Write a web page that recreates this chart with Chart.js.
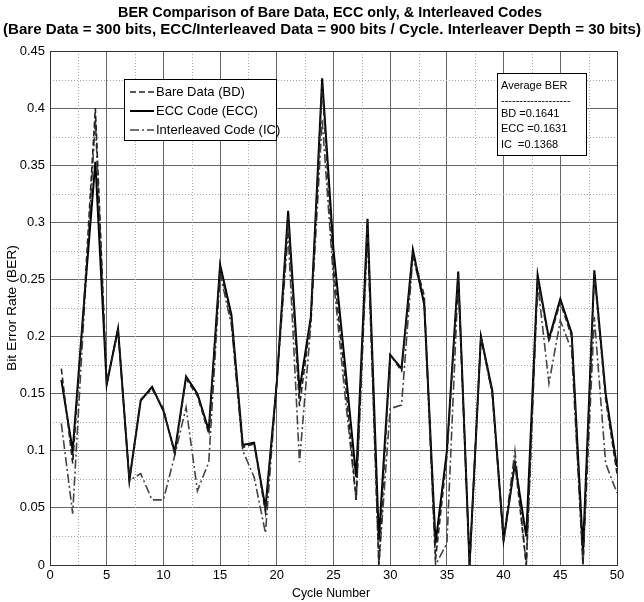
<!DOCTYPE html>
<html>
<head>
<meta charset="utf-8">
<title>BER Comparison</title>
<script src="https://cdn.jsdelivr.net/npm/chart.js@4.4.1/dist/chart.umd.min.js"></script>
<style>
    html, body { margin: 0; padding: 0; background: #fff; }
    #wrap { width: 644px; height: 602px; }
</style>
</head>
<body>
<div id="wrap"><canvas id="berChart" width="644" height="602"></canvas></div>
<script>
// --- Data ---
const cycles = [1, 2, 3, 4, 5, 6, 7, 8, 9, 10, 11, 12, 13, 14, 15, 16, 17, 18, 19, 20,
    21, 22, 23, 24, 25, 26, 27, 28, 29, 30, 31, 32, 33, 34, 35, 36, 37, 38, 39, 40,
    41, 42, 43, 44, 45, 46, 47, 48, 49, 50];

// Bare Data (BD)
const berBare = [0.172, 0.089, 0.23, 0.40, 0.16, 0.205, 0.074, 0.145, 0.154, 0.137,
    0.097, 0.163, 0.148, 0.115, 0.26, 0.215, 0.103, 0.106, 0.046, 0.16,
    0.305, 0.139, 0.215, 0.42, 0.26, 0.165, 0.057, 0.30, 0.0, 0.184,
    0.17, 0.272, 0.236, 0.005, 0.095, 0.255, 0.0, 0.20, 0.15, 0.02,
    0.09, 0.0, 0.25, 0.196, 0.23, 0.20, 0.0, 0.255, 0.145, 0.08];

// ECC Code (ECC)
const berEcc = [0.162, 0.10, 0.23, 0.353, 0.158, 0.207, 0.074, 0.144, 0.156, 0.135,
    0.099, 0.165, 0.15, 0.118, 0.263, 0.219, 0.105, 0.107, 0.05, 0.16,
    0.31, 0.153, 0.217, 0.426, 0.276, 0.177, 0.077, 0.303, 0.022, 0.184,
    0.172, 0.276, 0.228, 0.019, 0.10, 0.257, 0.0, 0.20, 0.153, 0.022,
    0.089, 0.025, 0.254, 0.198, 0.233, 0.203, 0.013, 0.258, 0.15, 0.086];

// Interleaved Code (IC)
const berInterleaved = [0.124, 0.045, 0.22, 0.39, 0.158, 0.207, 0.074, 0.08, 0.057, 0.057,
    0.096, 0.138, 0.065, 0.09, 0.255, 0.21, 0.10, 0.077, 0.028, 0.16,
    0.29, 0.09, 0.21, 0.39, 0.25, 0.15, 0.057, 0.29, 0.0, 0.137,
    0.14, 0.27, 0.23, 0.0, 0.019, 0.25, 0.0, 0.20, 0.15, 0.022,
    0.10, 0.0, 0.247, 0.159, 0.214, 0.188, 0.0, 0.217, 0.089, 0.063];

const xTicks = [0, 5, 10, 15, 20, 25, 30, 35, 40, 45, 50];
const yTicks = [0, 0.05, 0.1, 0.15, 0.2, 0.25, 0.3, 0.35, 0.4, 0.45];

const titleLines = [
    'BER Comparison of Bare Data, ECC only, & Interleaved Codes',
    '(Bare Data = 300 bits, ECC/Interleaved Data = 900 bits / Cycle. Interleaver Depth = 30 bits)'
];
const averageLines = ['Average BER', '-------------------', 'BD =0.1641', 'ECC =0.1631', 'IC  =0.1368'];

// --- Styles ---
const FONT = "'Liberation Sans Narrow', 'Arial Narrow', 'Liberation Sans', Arial, sans-serif";
const seriesStyles = [
    { label: 'Bare Data (BD)', color: '#222', width: 1.6, dash: [6, 3] },
    { label: 'ECC Code (ECC)', color: '#000', width: 2, dash: [] },
    { label: 'Interleaved Code (IC)', color: '#444', width: 1.6, dash: [9, 3, 2, 3] }
];

const toPoints = (values) => cycles.map((c, i) => ({ x: c, y: values[i] }));

// Text squeezed/stretched to a given width (the figure uses a narrow face)
function fillFitted(ctx, text, cx, y, width) {
    const w = ctx.measureText(text).width;
    ctx.save();
    ctx.translate(cx, y);
    ctx.scale(width / w, 1);
    ctx.fillText(text, 0, 0);
    ctx.restore();
}

// --- Plugins ---
const minorGrid = {
    id: 'minorGrid',
    beforeDatasetsDraw(chart) {
        const { ctx, chartArea: a, scales: { x, y } } = chart;
        ctx.save();
        ctx.strokeStyle = '#aaa';
        ctx.lineWidth = 1;
        ctx.setLineDash([1, 2]);
        for (let i = 0; i < xTicks.length - 1; i++) {
            const px = Math.round(x.getPixelForValue((xTicks[i] + xTicks[i + 1]) / 2)) + 0.5;
            ctx.beginPath(); ctx.moveTo(px, a.top); ctx.lineTo(px, a.bottom); ctx.stroke();
        }
        for (let i = 0; i < yTicks.length - 1; i++) {
            const py = Math.round(y.getPixelForValue((yTicks[i] + yTicks[i + 1]) / 2)) + 0.5;
            ctx.beginPath(); ctx.moveTo(a.left, py); ctx.lineTo(a.right, py); ctx.stroke();
        }
        ctx.restore();
    }
};

const annotations = {
    id: 'annotations',
    afterDraw(chart) {
        const { ctx, chartArea: a } = chart;
        ctx.save();

        // frame
        ctx.strokeStyle = '#333';
        ctx.lineWidth = 1;
        ctx.strokeRect(a.left + 0.5, a.top + 0.5, a.right - a.left, a.bottom - a.top);

        // title
        ctx.fillStyle = '#000';
        ctx.textAlign = 'center';
        ctx.textBaseline = 'alphabetic';
        ctx.font = 'bold 15px ' + FONT;
        fillFitted(ctx, titleLines[0], 330, 17, 424);
        fillFitted(ctx, titleLines[1], 322, 34, 638);

        // axis titles
        ctx.font = '13px ' + FONT;
        fillFitted(ctx, 'Cycle Number', 331, 597, 78);
        ctx.save();
        ctx.translate(16, 308);
        ctx.rotate(-Math.PI / 2);
        fillFitted(ctx, 'Bit Error Rate (BER)', 0, 0, 126);
        ctx.restore();

        // legend box
        ctx.fillStyle = '#fff';
        ctx.fillRect(124, 79, 152, 61);
        ctx.strokeStyle = '#000';
        ctx.strokeRect(124.5, 79.5, 152, 61);
        ctx.textAlign = 'left';
        ctx.textBaseline = 'middle';
        seriesStyles.forEach((s, i) => {
            const ly = 92 + i * 19;
            ctx.strokeStyle = s.color;
            ctx.lineWidth = s.width;
            ctx.setLineDash(s.dash);
            ctx.beginPath(); ctx.moveTo(130, ly); ctx.lineTo(154, ly); ctx.stroke();
            ctx.setLineDash([]);
            ctx.fillStyle = '#000';
            ctx.font = '13px ' + FONT;
            ctx.fillText(s.label, 156, ly);
        });

        // average BER box
        ctx.fillStyle = '#fff';
        ctx.fillRect(497, 73, 89, 82);
        ctx.strokeStyle = '#000';
        ctx.lineWidth = 1;
        ctx.strokeRect(497.5, 73.5, 89, 82);
        ctx.fillStyle = '#000';
        ctx.font = '11px ' + FONT;
        const rows = [86, 101, 114, 129, 145];
        averageLines.forEach((t, i) => ctx.fillText(t, 501, rows[i]));

        ctx.restore();
    }
};

// --- Chart ---
function renderBerChart() {
    const ctx = document.getElementById('berChart');
    if (!ctx) return;

    const values = [berBare, berEcc, berInterleaved];

    new Chart(ctx, {
        type: 'line',
        data: {
            datasets: seriesStyles.map((s, i) => ({
                label: s.label,
                data: toPoints(values[i]),
                borderColor: s.color,
                borderWidth: s.width,
                borderDash: s.dash,
                pointRadius: 0,
                tension: 0,
                fill: false
            }))
        },
        options: {
            responsive: false,
            animation: false,
            layout: { padding: { top: 51, right: 27, left: 0, bottom: 0 } },
            plugins: {
                legend: { display: false },
                title: { display: false },
                tooltip: { enabled: false }
            },
            scales: {
                x: {
                    type: 'linear',
                    min: 0,
                    max: 50,
                    afterFit: (scale) => { scale.height = 37; },
                    afterBuildTicks: (scale) => { scale.ticks = xTicks.map(v => ({ value: v })); },
                    ticks: {
                        color: '#000',
                        padding: 3,
                        maxRotation: 0,
                        font: { family: FONT, size: 13 }
                    },
                    grid: { color: '#666', lineWidth: 1, drawTicks: false },
                    border: { color: '#333' }
                },
                y: {
                    min: 0,
                    max: 0.45,
                    afterFit: (scale) => { scale.width = 50; },
                    afterBuildTicks: (scale) => { scale.ticks = yTicks.map(v => ({ value: v })); },
                    ticks: {
                        color: '#000',
                        padding: 5,
                        font: { family: FONT, size: 13 },
                        callback: (v) => String(Number(v.toFixed(2)))
                    },
                    grid: { color: '#666', lineWidth: 1, drawTicks: false },
                    border: { color: '#333' }
                }
            }
        },
        plugins: [minorGrid, annotations]
    });
}

document.addEventListener('DOMContentLoaded', renderBerChart);
</script>
</body>
</html>
